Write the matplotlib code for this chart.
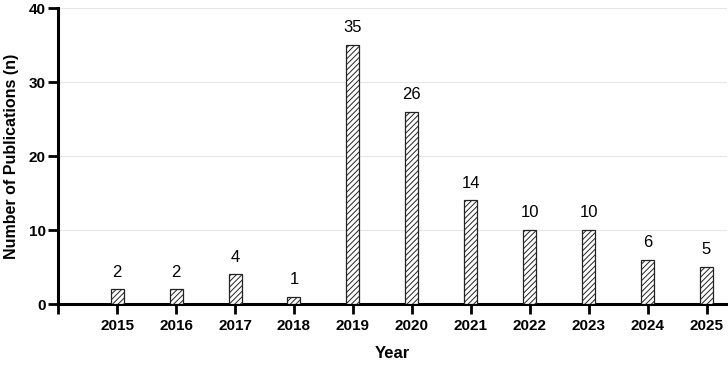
import matplotlib
matplotlib.use("Agg")
import matplotlib.pyplot as plt

plt.rcParams["font.family"] = ["Liberation Sans", "DejaVu Sans"]
plt.rcParams["hatch.linewidth"] = 0.7

years = [2015, 2016, 2017, 2018, 2019, 2020, 2021, 2022, 2023, 2024, 2025]
counts = [2, 2, 4, 1, 35, 26, 14, 10, 10, 6, 5]
tick_years = [2014] + years
tick_labels = [""] + [str(y) for y in years]

fig = plt.figure(figsize=(7.28, 3.65), dpi=100)
ax = fig.add_axes([0.080, 0.167, 0.918, 0.811])

bars = ax.bar(years, counts, width=0.22, color="white", edgecolor="#222222",
              hatch="//////", linewidth=0.9, zorder=3)
for x, v in zip(years, counts):
    ax.text(x, v + 1.3, str(v), ha="center", va="bottom", fontsize=12, zorder=4)

ax.set_xlim(2014, 2025.34)
ax.set_ylim(0, 40)
ax.set_xticks(tick_years)
ax.set_xticklabels(tick_labels, fontsize=11, fontweight="bold")
ax.set_yticks([0, 10, 20, 30, 40])
ax.set_yticklabels(["0", "10", "20", "30", "40"], fontsize=11, fontweight="bold")
ax.yaxis.grid(True, color="#e6e6e6", linewidth=0.8, zorder=0)

for side in ("top", "right"):
    ax.spines[side].set_visible(False)
for side in ("left", "bottom"):
    ax.spines[side].set_linewidth(2.2)
ax.tick_params(axis="both", direction="out", length=7, width=2.0, pad=2)
ax.tick_params(axis="x", pad=4)

ax.set_xlabel("Year", fontsize=12, fontweight="bold", labelpad=9)
ax.set_ylabel("Number of Publications (n)", fontsize=11.5, fontweight="bold", labelpad=7)

fig.savefig("out.png", dpi=100)
